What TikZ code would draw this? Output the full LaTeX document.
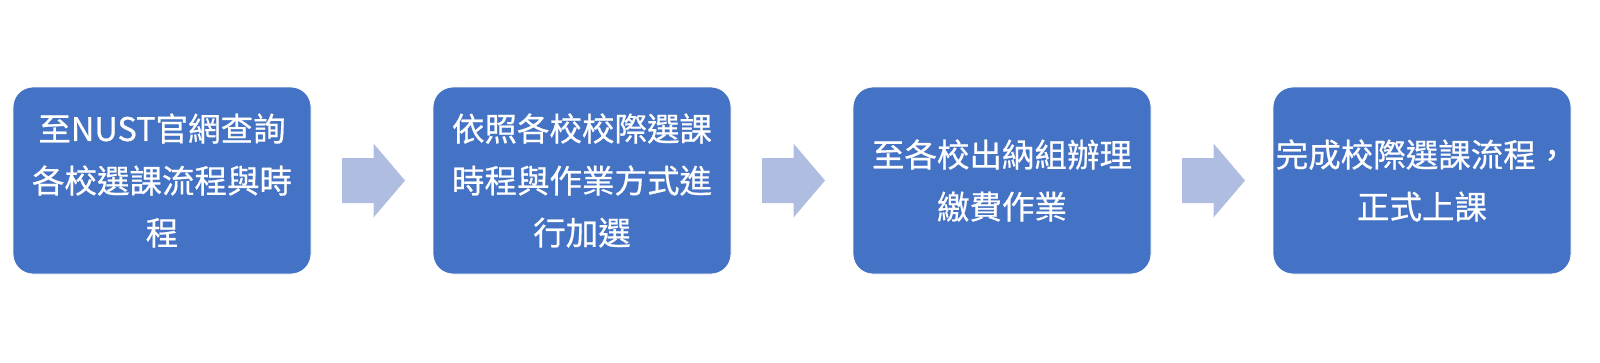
\documentclass[tikz,border=0pt]{standalone}
\usepackage{fontspec}
\newfontfamily\cjk[FakeBold=0.6]{Noto Sans CJK TC}
\usetikzlibrary{calc}
\definecolor{boxblue}{RGB}{68,114,196}
\definecolor{arrowblue}{RGB}{175,189,224}
\tikzset{
  stepbox/.style={draw=white, line width=0.8pt, fill=boxblue, rounded corners=20pt,
    minimum width=298pt, minimum height=187pt, inner sep=0pt, text=white,
    align=center, font=\cjk\fontsize{32.5}{52}\selectfont},
  blockarrow/.style={fill=arrowblue, draw=none}
}
\newcommand{\blockarr}[1]{%
  \fill[blockarrow] ($(#1)+(-31.5,-22.5)$) -- ($(#1)+(0,-22.5)$) -- ($(#1)+(0,-37)$)
    -- ($(#1)+(31.5,0)$) -- ($(#1)+(0,37)$) -- ($(#1)+(0,22.5)$) -- ($(#1)+(-31.5,22.5)$) -- cycle;}
\begin{document}
\begin{tikzpicture}[x=1pt,y=-1pt]
\useasboundingbox (0,0) rectangle (1600,362);
\node[stepbox] (b1) at (162,180.5) {至NUST官網查詢\\各校選課流程與時\\程};
\node[stepbox] (b2) at (582,180.5) {依照各校校際選課\\時程與作業方式進\\行加選};
\node[stepbox] (b3) at (1002,180.5) {至各校出納組辦理\\繳費作業};
\node[stepbox] (b4) at (1422,180.5) {完成校際選課流程，\\正式上課\hspace{0.5em}};
\coordinate (a1) at ($(b1.east)!0.5!(b2.west)+(1.5,0)$);
\coordinate (a2) at ($(b2.east)!0.5!(b3.west)+(1.5,0)$);
\coordinate (a3) at ($(b3.east)!0.5!(b4.west)+(1.5,0)$);
\blockarr{a1}
\blockarr{a2}
\blockarr{a3}
\end{tikzpicture}
\end{document}
